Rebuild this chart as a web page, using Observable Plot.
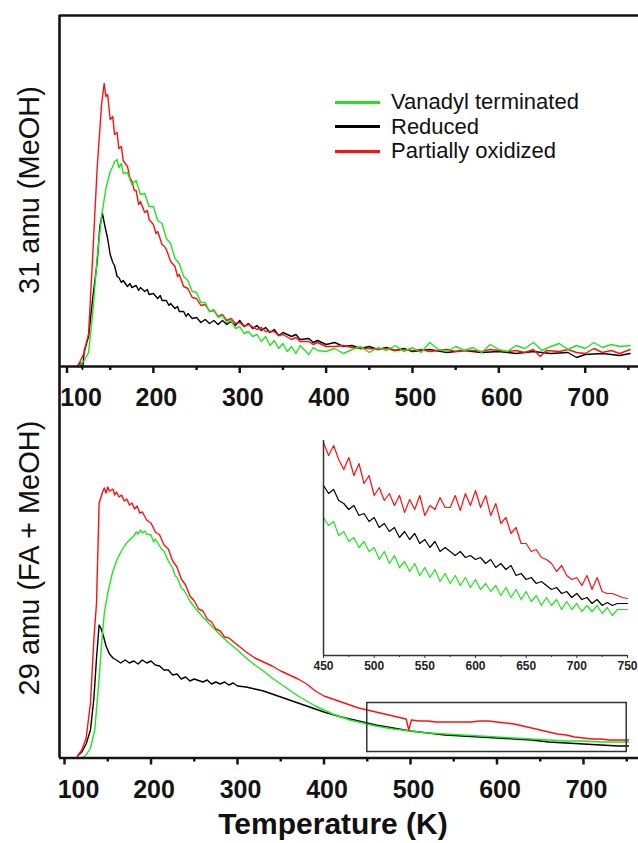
<!DOCTYPE html>
<html>
<head>
<meta charset="utf-8">
<script src="https://cdn.jsdelivr.net/npm/d3@7"></script>
<script src="https://cdn.jsdelivr.net/npm/@observablehq/plot@0.6"></script>
<style>
  html, body { margin: 0; padding: 0; background: #fff; }
  #wrap { position: relative; width: 638px; height: 843px; overflow: hidden; background: #fff;
          font-family: "Liberation Sans", Arial, sans-serif; color: #111; }
  #wrap svg { position: absolute; overflow: visible; }
  .ylab { position: absolute; white-space: nowrap; font-size: 29px; line-height: 1;
          transform: translate(-50%, -50%) rotate(-90deg); }
  .xlab { position: absolute; white-space: nowrap; font-size: 30px; font-weight: bold; line-height: 1;
          transform: translate(-50%, -50%); }
  .legend { position: absolute; left: 335px; top: 90px; font-size: 22px; line-height: 24.5px; }
  .legend div { display: flex; align-items: center; white-space: nowrap; }
  .legend span.sw { display: inline-block; width: 45px; height: 3px; margin-right: 11px; }
</style>
</head>
<body>
<div id="wrap"></div>
<script>
// ---------- labels / categories ----------
const seriesNames = ["Vanadyl terminated", "Reduced", "Partially oxidized"];
const seriesColors = ["#1ee61e", "#000000", "#ff1010"];
const topYLabel = "31 amu (MeOH)";
const bottomYLabel = "29 amu (FA + MeOH)";
const xLabel = "Temperature (K)";
const majorTicks = [100, 200, 300, 400, 500, 600, 700];
const minorTicks = [150, 250, 350, 450, 550, 650, 750];
const insetMajorTicks = [450, 500, 550, 600, 650, 700, 750];
const insetMinorTicks = [475, 525, 575, 625, 675, 725];

// ---------- 31 amu (MeOH) : [T (K), intensity a.u.] ----------
const top31Vanadyl = [[115,2],[120,6],[125,14],[130,55],[135,110],[140,150],[145,178],[150,195],[153,200],[155,205],[158,207],[160,199],[163,203],[165,193],[170,194],[175,182],[180,186],[185,172],[190,173],[195,160],[200,160],[205,146],[210,143],[215,128],[220,123],[225,108],[230,103],[235,90],[240,86],[245,75],[250,74],[255,64],[260,64],[265,55],[270,57],[275,49],[280,51],[285,44],[290,46],[295,38],[300,40],[305,33],[310,35],[315,30],[320,32],[325,25],[330,30],[335,21],[340,26],[345,18],[350,23],[355,15],[360,20],[365,13],[370,21],[380,12],[385,19],[390,16],[400,15],[410,18],[420,13],[430,17],[440,20],[450,14],[460,19],[470,16],[480,21],[490,15],[500,19],[510,14],[520,24],[530,17],[540,15],[550,20],[560,16],[570,19],[580,14],[590,22],[600,17],[610,15],[620,21],[630,18],[640,24],[650,16],[660,20],[670,23],[680,17],[690,21],[700,18],[710,24],[720,19],[730,22],[740,20],[752,21]];
const top31Reduced = [[112,0],[115,4],[118,-3],[120,16],[125,30],[130,70],[135,105],[138,140],[141,153],[144,140],[147,128],[150,112],[153,104],[155,101],[158,90],[160,89],[163,84],[165,86],[170,80],[173,83],[175,79],[180,81],[183,76],[185,79],[190,75],[193,77],[195,72],[200,73],[205,68],[208,71],[210,66],[215,66],[218,61],[220,63],[225,58],[228,60],[230,55],[235,55],[238,50],[240,53],[245,48],[250,49],[255,44],[260,47],[265,43],[270,46],[275,42],[280,46],[285,42],[290,45],[295,41],[300,46],[305,40],[310,43],[315,38],[320,41],[325,36],[330,39],[335,34],[340,37],[345,31],[350,34],[360,30],[365,32],[370,27],[380,28],[385,24],[390,26],[400,22],[410,24],[420,20],[430,21],[440,18],[450,20],[460,17],[470,19],[480,16],[490,18],[500,15],[520,17],[540,14],[560,16],[580,14],[600,15],[620,13],[640,15],[660,13],[680,14],[690,9],[700,12],[720,13],[740,11],[752,13]];
const top31Oxidized = [[112,0],[115,5],[120,14],[125,33],[130,115],[135,200],[140,262],[143,283],[145,270],[147,272],[150,247],[153,250],[155,232],[158,234],[160,218],[163,220],[165,206],[170,200],[173,188],[175,186],[178,176],[180,176],[183,162],[185,165],[190,154],[193,156],[195,147],[200,142],[203,133],[205,135],[210,122],[213,120],[215,117],[220,105],[225,100],[228,90],[230,92],[235,80],[240,78],[245,69],[250,68],[255,61],[260,62],[265,55],[270,56],[275,50],[280,52],[285,46],[290,48],[295,43],[300,44],[305,40],[310,42],[320,37],[325,39],[330,35],[340,35],[345,31],[350,32],[360,27],[365,29],[370,25],[380,25],[385,22],[390,24],[400,20],[410,20],[420,21],[430,19],[440,18],[450,18],[460,17],[470,18],[480,16],[490,17],[500,16],[510,17],[520,15],[530,16],[540,17],[550,15],[560,16],[570,16],[580,15],[590,17],[600,16],[610,15],[620,16],[630,14],[640,17],[648,10],[655,16],[670,15],[680,17],[690,14],[700,13],[710,18],[720,14],[730,16],[740,13],[752,17]];

// ---------- 29 amu (FA + MeOH) : [T (K), intensity a.u.] ----------
const bot29Vanadyl = [[120,0],[125,3],[130,10],[135,28],[140,80],[143,115],[146,145],[150,165],[155,184],[160,197],[165,206],[170,213],[175,218],[180,222],[183,226],[185,224],[188,228],[190,225],[193,227],[195,224],[200,223],[203,216],[205,219],[210,212],[213,208],[215,207],[220,197],[225,190],[228,182],[230,181],[235,170],[238,168],[240,165],[245,157],[250,151],[255,146],[260,141],[270,132],[280,123],[290,115],[300,108],[310,100],[320,93],[330,87],[340,80],[350,74],[360,68],[370,62],[380,57],[390,52],[400,48],[410,44],[420,41],[430,38],[440,36],[460,32],[480,29],[500,27],[520,25],[540,24],[560,23],[580,22],[600,21],[620,20],[640,19],[660,18],[680,17],[700,17],[720,16],[740,16],[752,16]];
const bot29Reduced = [[115,2],[120,6],[125,14],[130,28],[134,60],[137,100],[140,133],[142,130],[145,122],[148,112],[152,104],[156,100],[160,98],[165,95],[170,98],[175,95],[180,97],[185,94],[190,98],[195,95],[200,97],[205,93],[210,92],[215,88],[220,88],[225,83],[230,84],[235,79],[240,81],[245,77],[250,79],[260,76],[265,78],[270,74],[275,76],[280,74],[285,76],[290,73],[295,75],[300,72],[310,71],[320,69],[330,67],[340,64],[350,61],[360,58],[370,55],[380,52],[390,49],[400,46],[420,41],[440,37],[460,33],[480,30],[500,27],[520,25],[540,23],[560,22],[580,21],[600,20],[620,19],[640,18],[660,16],[680,15],[700,14],[720,13],[740,12],[752,12]];
const bot29Oxidized = [[115,2],[120,8],[125,20],[130,55],[134,120],[137,155],[140,255],[144,266],[146,270],[148,265],[150,271],[152,267],[156,269],[158,263],[160,266],[163,261],[166,263],[169,257],[172,259],[175,253],[178,255],[181,249],[184,252],[187,245],[190,246],[195,238],[198,236],[200,235],[205,226],[210,223],[215,213],[220,209],[225,197],[230,191],[235,179],[240,173],[245,162],[250,157],[255,149],[260,147],[265,139],[270,136],[275,129],[280,127],[285,121],[290,120],[300,113],[310,106],[320,100],[330,96],[340,92],[350,87],[360,83],[370,79],[380,74],[390,67],[400,62],[410,59],[420,56],[430,53],[440,50],[450,48],[460,46],[470,44],[480,42],[490,40],[495,39],[498,28],[501,38],[510,37],[520,37],[530,36],[540,36],[550,36],[560,36],[570,36],[580,37],[590,37],[600,36],[610,35],[620,34],[630,32],[640,30],[650,28],[660,26],[670,24],[680,23],[690,21],[700,20],[710,19],[720,19],[730,18],[740,18],[752,18]];
const zoomBox = [{x1: 450, x2: 750, y1: 6, y2: 55}];

// ---------- inset (450-750 K, magnified) ----------
const insetVanadyl = [[450,138],[455,130],[460,134],[465,120],[470,124],[475,114],[480,118],[485,108],[490,114],[495,104],[500,108],[505,96],[510,104],[515,92],[520,100],[525,88],[530,94],[535,84],[540,92],[545,80],[550,88],[555,78],[560,86],[565,74],[570,82],[575,72],[580,80],[585,70],[590,78],[595,68],[600,76],[605,66],[610,72],[615,64],[620,70],[625,60],[630,68],[635,58],[640,66],[645,56],[650,64],[655,54],[660,60],[665,50],[670,58],[675,50],[680,56],[685,46],[690,54],[695,46],[700,52],[705,44],[710,50],[715,44],[720,50],[725,42],[730,48],[735,40],[740,46],[745,46],[750,46]];
const insetReduced = [[450,170],[455,162],[460,166],[465,155],[470,152],[475,146],[480,150],[485,140],[490,142],[495,134],[500,138],[505,128],[510,132],[515,124],[520,128],[525,118],[530,124],[535,116],[540,122],[545,112],[550,116],[555,108],[560,114],[565,104],[570,108],[575,104],[580,100],[585,104],[590,98],[595,100],[600,96],[605,98],[610,92],[615,96],[620,88],[625,92],[630,86],[635,90],[640,80],[645,82],[650,76],[655,78],[660,72],[665,74],[670,70],[675,66],[680,68],[685,62],[690,64],[695,58],[700,62],[705,56],[710,58],[715,52],[720,56],[725,50],[730,53],[735,50],[740,52],[745,52],[750,52]];
const insetOxidized = [[450,213],[455,200],[460,210],[465,196],[470,186],[475,198],[480,180],[485,192],[490,172],[495,180],[500,160],[505,168],[510,155],[515,162],[520,150],[525,160],[530,143],[535,156],[540,146],[545,160],[550,140],[555,150],[560,146],[565,158],[570,148],[575,148],[580,160],[585,145],[590,162],[595,150],[600,165],[605,148],[610,160],[615,140],[620,152],[625,132],[630,138],[635,122],[640,128],[645,112],[650,112],[655,104],[660,106],[665,98],[670,96],[675,92],[680,84],[685,90],[690,80],[695,76],[700,78],[705,70],[710,80],[715,66],[720,78],[725,64],[730,62],[735,62],[740,60],[745,58],[750,57]];

// ---------- build ----------
const rows = (pairs, s) => pairs.map(([T, v]) => ({T, v, s}));
const colorScale = {domain: seriesNames, range: seriesColors};
const axisColor = "#141414";
const tickFont = {fontFamily: "'Liberation Sans Narrow', 'Arial Narrow', 'Liberation Sans', Arial, sans-serif", fontSize: 25, fontWeight: "bold", fill: "#141414"};

function mainAxes(xMin, yMax, withTopRule) {
  const m = [
    Plot.ruleX([xMin], {stroke: axisColor, strokeWidth: 2.6}),
    Plot.ruleY([0], {stroke: axisColor, strokeWidth: 2.6}),
    Plot.axisX(minorTicks, {tickSize: 4, strokeWidth: 2.5, stroke: axisColor, tickFormat: () => "", label: null}),
    Plot.axisX(majorTicks, {tickSize: 7, strokeWidth: 2.5, stroke: axisColor, tickFormat: () => "", label: null}),
    Plot.axisX(majorTicks.slice(0, 1), {tickSize: 0, tickPadding: 22, dx: 14, label: null, ...tickFont}),
    Plot.axisX(majorTicks.slice(1), {tickSize: 0, tickPadding: 22, dx: 3, label: null, ...tickFont})
  ];
  if (withTopRule) m.push(Plot.ruleY([yMax], {stroke: axisColor, strokeWidth: 2.6}));
  return m;
}

const lineOpts = {x: "T", y: "v", stroke: "s", strokeWidth: 1.4};

const topDomainX = [91.3, 761.7], topDomainY = [0, 351];
const topPlot = Plot.plot({
  width: 638, height: 412, marginLeft: 59, marginRight: 0, marginTop: 15, marginBottom: 46,
  style: {background: "transparent", overflow: "visible"},
  x: {domain: topDomainX, axis: null, label: null},
  y: {domain: topDomainY, axis: null, label: null},
  color: colorScale,
  marks: [
    Plot.line(rows(top31Reduced, seriesNames[1]), lineOpts),
    Plot.line(rows(top31Oxidized, seriesNames[2]), lineOpts),
    Plot.line(rows(top31Vanadyl, seriesNames[0]), lineOpts),
    ...mainAxes(topDomainX[0], topDomainY[1], true)
  ]
});

const botDomainX = [94.2, 763.6], botDomainY = [0, 391.5];
const botPlot = Plot.plot({
  width: 638, height: 477, marginLeft: 59, marginRight: 0, marginTop: 0, marginBottom: 85.5,
  style: {background: "transparent", overflow: "visible"},
  x: {domain: botDomainX, axis: null, label: null},
  y: {domain: botDomainY, axis: null, label: null},
  color: colorScale,
  marks: [
    Plot.line(rows(bot29Reduced, seriesNames[1]), lineOpts),
    Plot.line(rows(bot29Vanadyl, seriesNames[0]), lineOpts),
    Plot.line(rows(bot29Oxidized, seriesNames[2]), lineOpts),
    Plot.rect(zoomBox, {x1: "x1", x2: "x2", y1: "y1", y2: "y2", fill: "none", stroke: "#333", strokeWidth: 1.5}),
    ...mainAxes(botDomainX[0], botDomainY[1], false)
  ]
});

const insetFont = {fontFamily: "'Liberation Sans', Arial, sans-serif", fontSize: 12, fontWeight: "bold", fill: "#222"};
const insetPlot = Plot.plot({
  width: 338, height: 250, marginLeft: 23, marginRight: 11, marginTop: 10, marginBottom: 25,
  style: {background: "transparent", overflow: "visible"},
  x: {domain: [450, 750], axis: null, label: null},
  y: {domain: [0, 215], axis: null, label: null},
  color: colorScale,
  marks: [
    Plot.line(rows(insetVanadyl, seriesNames[0]), {...lineOpts, strokeWidth: 1.2}),
    Plot.line(rows(insetReduced, seriesNames[1]), {...lineOpts, strokeWidth: 1.2}),
    Plot.line(rows(insetOxidized, seriesNames[2]), {...lineOpts, strokeWidth: 1.2}),
    Plot.ruleX([450], {stroke: "#333", strokeWidth: 1.5}),
    Plot.ruleY([0], {stroke: "#333", strokeWidth: 1.5}),
    Plot.axisX(insetMinorTicks, {tickSize: 2, stroke: "#333", tickFormat: () => "", label: null}),
    Plot.axisX(insetMajorTicks, {tickSize: 3, tickPadding: 3, stroke: "#333", label: null, ...insetFont})
  ]
});

const wrap = document.getElementById("wrap");
botPlot.style.left = "0px"; botPlot.style.top = "366px";
topPlot.style.left = "0px"; topPlot.style.top = "0px";
insetPlot.style.left = "300px"; insetPlot.style.top = "430px";
wrap.appendChild(botPlot);
wrap.appendChild(insetPlot);
wrap.appendChild(topPlot);

function addLabel(cls, text, x, y) {
  const d = document.createElement("div");
  d.className = cls; d.textContent = text;
  d.style.left = x + "px"; d.style.top = y + "px";
  wrap.appendChild(d);
}
addLabel("ylab", topYLabel, 29, 190);
addLabel("ylab", bottomYLabel, 29, 558);
addLabel("xlab", xLabel, 333, 824);

const leg = document.createElement("div");
leg.className = "legend";
seriesNames.forEach((name, i) => {
  const row = document.createElement("div");
  const sw = document.createElement("span");
  sw.className = "sw"; sw.style.background = seriesColors[i];
  row.appendChild(sw);
  row.appendChild(document.createTextNode(name));
  leg.appendChild(row);
});
wrap.appendChild(leg);
</script>
</body>
</html>
